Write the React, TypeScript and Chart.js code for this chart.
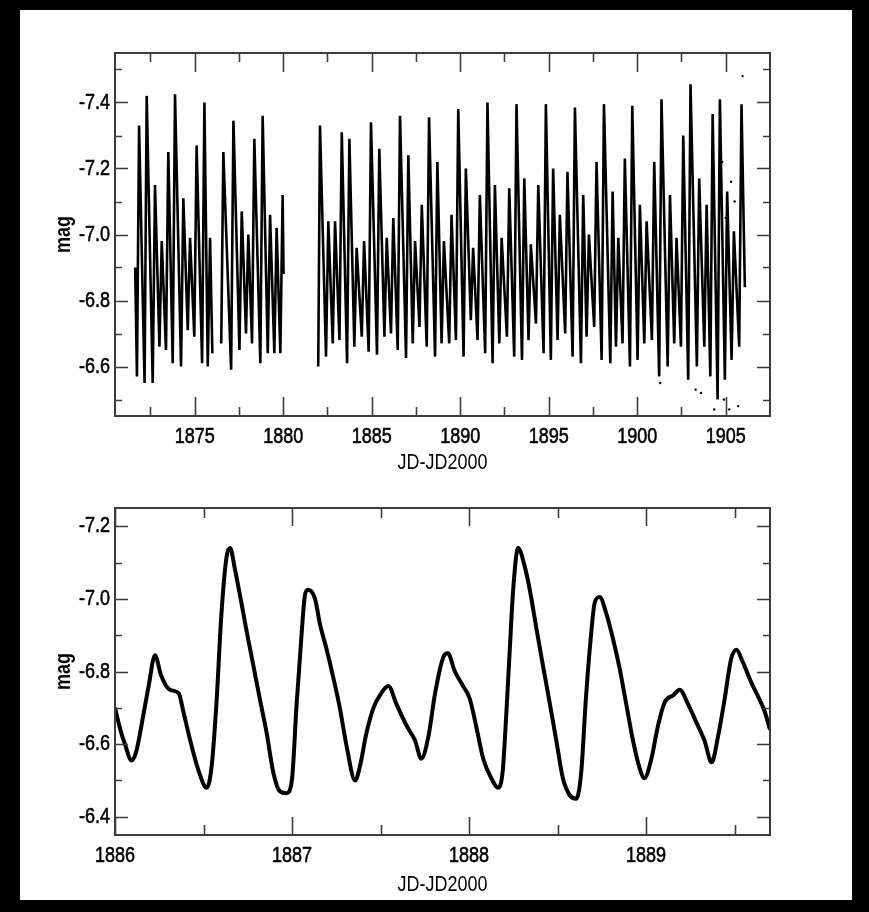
import { useEffect, useRef } from "react";
import { Chart, registerables } from "chart.js";

Chart.register(...registerables);

// ---------- Top panel: full light curve (cycle maxima / minima) ----------
const segADays = [1871.64, 1871.74, 1871.86, 1872.17, 1872.29, 1872.63, 1872.76, 1873.01, 1873.14, 1873.38, 1873.51, 1873.76, 1873.89, 1874.23, 1874.36, 1874.61, 1874.74, 1874.98, 1875.11, 1875.42, 1875.55, 1875.74, 1875.87, 1876.0];
const segAMags = [-6.90, -6.57, -7.33, -6.55, -7.42, -6.55, -7.15, -6.66, -6.98, -6.65, -7.25, -6.61, -7.425, -6.60, -7.11, -6.71, -6.99, -6.69, -7.27, -6.61, -7.40, -6.60, -6.99, -6.64];

const segBDays = [1876.50, 1876.62, 1877.06, 1877.19, 1877.53, 1877.66, 1877.90, 1878.03, 1878.24, 1878.37, 1878.71, 1878.84, 1879.13, 1879.26, 1879.50, 1879.63, 1879.84, 1879.97, 1880.02];
const segBMags = [-6.67, -7.25, -6.59, -7.345, -6.65, -7.07, -6.70, -7.00, -6.67, -7.29, -6.61, -7.36, -6.64, -7.06, -6.64, -7.02, -6.64, -7.12, -6.88];

const segCDays = [
  1881.98, 1882.08, 1882.42, 1882.55, 1882.80, 1882.93, 1883.18, 1883.31, 1883.61, 1883.74,
  1884.02, 1884.15, 1884.44, 1884.57, 1884.83, 1884.96, 1885.30, 1885.43, 1885.72, 1885.85,
  1886.09, 1886.22, 1886.47, 1886.60, 1886.94, 1887.07, 1887.32, 1887.45, 1887.70, 1887.83,
  1888.11, 1888.24, 1888.58, 1888.71, 1888.95, 1889.08, 1889.38, 1889.51, 1889.76, 1889.89,
  1890.19, 1890.32, 1890.60, 1890.73, 1890.98, 1891.11, 1891.41, 1891.54, 1891.83, 1891.96,
  1892.21, 1892.34, 1892.64, 1892.77, 1893.05, 1893.18, 1893.49, 1893.62, 1893.86, 1893.99,
  1894.28, 1894.41, 1894.71, 1894.84, 1895.12, 1895.25, 1895.50, 1895.63, 1895.93, 1896.06,
  1896.35, 1896.48, 1896.82, 1896.95, 1897.14, 1897.27, 1897.57, 1897.70, 1897.99, 1898.12,
  1898.48, 1898.61, 1898.80, 1898.93, 1899.17, 1899.30, 1899.59, 1899.72, 1900.02, 1900.15,
  1900.40, 1900.53, 1900.83, 1900.96, 1901.24, 1901.37, 1901.72, 1901.85, 1902.09, 1902.22,
  1902.47, 1902.60, 1902.88, 1903.01, 1903.37, 1903.50, 1903.79, 1903.92, 1904.13, 1904.26,
  1904.54, 1904.67, 1904.95, 1905.08, 1905.33, 1905.46, 1905.76, 1905.89, 1906.08,
];
const segCMags = [
  -6.60, -7.33, -6.63, -7.04, -6.67, -7.04, -6.68, -7.31, -6.61, -7.29,
  -6.66, -6.96, -6.69, -6.98, -6.645, -7.34, -6.636, -7.26, -6.69, -6.99,
  -6.70, -7.05, -6.65, -7.36, -6.626, -7.24, -6.67, -6.98, -6.72, -7.09,
  -6.66, -7.355, -6.63, -7.22, -6.67, -6.98, -6.67, -7.06, -6.68, -7.38,
  -6.63, -7.20, -6.74, -6.96, -6.68, -7.12, -6.64, -7.40, -6.61, -7.15,
  -6.67, -6.99, -6.69, -7.14, -6.63, -7.395, -6.62, -7.17, -6.68, -6.97,
  -6.73, -7.15, -6.64, -7.395, -6.62, -7.20, -6.68, -7.06, -6.70, -7.19,
  -6.63, -7.385, -6.61, -7.12, -6.69, -7.00, -6.72, -7.22, -6.62, -7.395,
  -6.61, -7.13, -6.66, -6.99, -6.67, -7.23, -6.60, -7.39, -6.62, -7.09,
  -6.67, -7.04, -6.68, -7.22, -6.57, -7.41, -6.60, -7.12, -6.67, -6.99,
  -6.66, -7.30, -6.56, -7.455, -6.60, -7.17, -6.66, -7.09, -6.57, -7.365,
  -6.50, -7.41, -6.56, -7.13, -6.62, -7.01, -6.66, -7.395, -6.84,
];

const strayDays = [1905.95, 1904.35, 1905.2, 1905.7, 1904.9, 1903.3, 1901.3, 1905.3, 1904.8, 1905.5, 1903.6, 1905.0];
const strayMags = [-7.48, -6.47, -6.47, -6.48, -6.50, -6.53, -6.55, -7.16, -7.22, -7.10, -6.52, -7.05];

// ---------- Bottom panel: zoom 1886 - 1889.7 ----------
const zoomDays = [
  1886.00, 1886.03, 1886.056, 1886.094, 1886.12, 1886.16, 1886.19, 1886.226, 1886.26, 1886.31,
  1886.36, 1886.386, 1886.42, 1886.47, 1886.518, 1886.546, 1886.574, 1886.60, 1886.63, 1886.65,
  1886.678, 1886.706, 1886.744, 1886.78, 1886.82, 1886.857, 1886.895, 1886.932, 1886.97, 1887.00,
  1887.026, 1887.055, 1887.073, 1887.09, 1887.13, 1887.158, 1887.196, 1887.23, 1887.27, 1887.31,
  1887.356, 1887.384, 1887.42, 1887.46, 1887.497, 1887.544, 1887.59, 1887.648, 1887.695, 1887.73,
  1887.77, 1887.808, 1887.855, 1887.88, 1887.92, 1887.966, 1888.004, 1888.04, 1888.08, 1888.126,
  1888.164, 1888.19, 1888.21, 1888.23, 1888.25, 1888.277, 1888.314, 1888.343, 1888.38, 1888.418,
  1888.455, 1888.493, 1888.53, 1888.568, 1888.606, 1888.634, 1888.66, 1888.69, 1888.71, 1888.738,
  1888.775, 1888.813, 1888.85, 1888.888, 1888.926, 1888.963, 1888.99, 1889.03, 1889.067, 1889.105,
  1889.152, 1889.19, 1889.237, 1889.284, 1889.33, 1889.37, 1889.406, 1889.444, 1889.48, 1889.51,
  1889.547, 1889.594, 1889.63, 1889.67, 1889.70,
];
const zoomMags = [
  -6.70, -6.64, -6.60, -6.555, -6.58, -6.68, -6.76, -6.845, -6.79, -6.75,
  -6.74, -6.69, -6.62, -6.53, -6.48, -6.54, -6.72, -6.95, -7.115, -7.14,
  -7.08, -7.01, -6.91, -6.82, -6.72, -6.63, -6.52, -6.47, -6.465, -6.505,
  -6.71, -6.91, -7.01, -7.025, -7.00, -6.93, -6.86, -6.79, -6.70, -6.59,
  -6.50, -6.54, -6.63, -6.70, -6.735, -6.76, -6.71, -6.65, -6.61, -6.56,
  -6.62, -6.74, -6.84, -6.85, -6.80, -6.76, -6.725, -6.65, -6.56, -6.506,
  -6.48, -6.525, -6.68, -6.86, -7.03, -7.14, -7.09, -7.025, -6.92, -6.815,
  -6.715, -6.61, -6.506, -6.46, -6.45, -6.525, -6.725, -6.906, -6.99, -7.005,
  -6.96, -6.89, -6.81, -6.71, -6.61, -6.535, -6.506, -6.56, -6.65, -6.715,
  -6.734, -6.75, -6.71, -6.66, -6.61, -6.55, -6.62, -6.725, -6.834, -6.86,
  -6.825, -6.77, -6.734, -6.69, -6.64,
];

// ---------- Axis ticks ----------
const topXTicks = [1875, 1880, 1885, 1890, 1895, 1900, 1905];
const topXMinor = [1872.5, 1877.5, 1882.5, 1887.5, 1892.5, 1897.5, 1902.5];
const topYTicks = [-7.4, -7.2, -7.0, -6.8, -6.6];
const topYMinor = [-7.5, -7.3, -7.1, -6.9, -6.7, -6.5];

const botXTicks = [1886, 1887, 1888, 1889];
const botXMinor = [1886.5, 1887.5, 1888.5, 1889.5];
const botYTicks = [-7.2, -7.0, -6.8, -6.6, -6.4];
const botYMinor = [-7.1, -6.9, -6.7, -6.5];

const FONT = '"Liberation Sans", Arial, sans-serif';
const FONT_SIZE = 22.5;
const TEXT_SQUEEZE = 0.8;

const pts = (xs: number[], ys: number[]) => xs.map((x, i) => ({ x, y: ys[i] }));

// Condensed lettering: Chart.js still draws every label; we only narrow the glyphs.
const narrowTextPlugin = {
  id: "narrowText",
  beforeDraw(chart: any) {
    const ctx = chart.ctx as any;
    if (ctx.__origFillText) return;
    const origFill = ctx.fillText;
    const origStroke = ctx.strokeText;
    ctx.__origFillText = origFill;
    ctx.__origStrokeText = origStroke;
    ctx.fillText = function (text: string, x: number, y: number) {
      this.save();
      this.translate(x, y);
      this.scale(TEXT_SQUEEZE, 1);
      origFill.call(this, text, 0, 0);
      this.restore();
    };
    ctx.strokeText = function (text: string, x: number, y: number) {
      this.save();
      this.translate(x, y);
      this.scale(TEXT_SQUEEZE, 1);
      origStroke.call(this, text, 0, 0);
      this.restore();
    };
  },
  afterDraw(chart: any) {
    const ctx = chart.ctx as any;
    if (ctx.__origFillText) {
      ctx.fillText = ctx.__origFillText;
      ctx.strokeText = ctx.__origStrokeText;
      delete ctx.__origFillText;
      delete ctx.__origStrokeText;
    }
  },
};

const framePlugin = {
  id: "frame",
  afterDraw(chart: any, _args: any, opts: any) {
    const { ctx, chartArea, scales } = chart;
    const { left, right, top, bottom } = chartArea;
    const xs = scales.x;
    const ys = scales.y;
    ctx.save();
    ctx.strokeStyle = "#3c3c3c";
    ctx.lineWidth = 2;
    ctx.strokeRect(left, top, right - left, bottom - top);
    ctx.beginPath();
    const xTick = (v: number, len: number) => {
      const p = Math.round(xs.getPixelForValue(v)) + 0.5;
      ctx.moveTo(p, bottom);
      ctx.lineTo(p, bottom - len);
      ctx.moveTo(p, top);
      ctx.lineTo(p, top + len);
    };
    const yTick = (v: number, len: number) => {
      const p = Math.round(ys.getPixelForValue(v)) + 0.5;
      ctx.moveTo(left, p);
      ctx.lineTo(left + len, p);
      ctx.moveTo(right, p);
      ctx.lineTo(right - len, p);
    };
    opts.xMajor.forEach((v: number) => xTick(v, opts.xMajorLen));
    opts.xMinor.forEach((v: number) => xTick(v, opts.xMinorLen));
    opts.yMajor.forEach((v: number) => yTick(v, opts.yMajorLen));
    opts.yMinor.forEach((v: number) => yTick(v, opts.yMinorLen));
    ctx.lineWidth = 1.6;
    ctx.stroke();
    ctx.restore();
  },
};

function makeConfig(p: any): any {
  const font = { family: FONT, size: FONT_SIZE };
  return {
    type: "line",
    data: { datasets: p.datasets },
    options: {
      animation: false,
      responsive: false,
      events: [],
      layout: { padding: { left: 0, right: 99, top: p.padTop, bottom: 0 } },
      plugins: {
        legend: { display: false },
        tooltip: { enabled: false },
        frame: p.frame,
      },
      scales: {
        x: {
          type: "linear",
          min: p.xMin,
          max: p.xMax,
          grid: { display: false, drawTicks: false },
          border: { display: false },
          afterBuildTicks: (s: any) => {
            s.ticks = p.xTicks.map((v: number) => ({ value: v }));
          },
          afterFit: (s: any) => {
            s.height = p.xHeight;
          },
          ticks: {
            autoSkip: false,
            maxRotation: 0,
            padding: 7,
            color: "#000",
            textStrokeColor: "#000",
            textStrokeWidth: 0.6,
            font,
            callback: (v: any) => String(v),
          },
          title: {
            display: true,
            text: "JD-JD2000",
            color: "#000",
            font,
            padding: { top: 0, bottom: p.titleBottom },
          },
        },
        y: {
          type: "linear",
          reverse: true,
          min: p.yMin,
          max: p.yMax,
          grid: { display: false, drawTicks: false },
          border: { display: false },
          afterBuildTicks: (s: any) => {
            s.ticks = p.yTicks.map((v: number) => ({ value: v }));
          },
          afterFit: (s: any) => {
            s.width = 115;
          },
          ticks: {
            autoSkip: false,
            padding: 5,
            color: "#000",
            textStrokeColor: "#000",
            textStrokeWidth: 0.6,
            font,
            callback: (v: any) => Number(v).toFixed(1),
          },
          title: {
            display: true,
            text: "mag",
            color: "#000",
            font: { family: FONT, size: FONT_SIZE, weight: "bold" },
            padding: { top: 50, bottom: 0 },
          },
        },
      },
    },
    plugins: [narrowTextPlugin, framePlugin],
  };
}

const lineSet = (xs: number[], ys: number[], w: number, smooth: boolean) => ({
  data: pts(xs, ys),
  borderColor: "#000",
  borderWidth: w,
  pointRadius: 0,
  tension: 0,
  cubicInterpolationMode: smooth ? "monotone" : "default",
  fill: false,
});

export default function App() {
  const topRef = useRef<HTMLCanvasElement>(null);
  const botRef = useRef<HTMLCanvasElement>(null);

  useEffect(() => {
    const top = new Chart(
      topRef.current as HTMLCanvasElement,
      makeConfig({
        datasets: [
          lineSet(segADays, segAMags, 2.6, false),
          lineSet(segBDays, segBMags, 2.6, false),
          lineSet(segCDays, segCMags, 2.6, false),
          {
            data: pts(strayDays, strayMags),
            showLine: false,
            pointRadius: 1.2,
            pointBackgroundColor: "#000",
            pointBorderWidth: 0,
          },
        ],
        xMin: 1870.5,
        xMax: 1907.5,
        yMin: -7.55,
        yMax: -6.45,
        xTicks: topXTicks,
        yTicks: topYTicks,
        padTop: 53,
        xHeight: 64,
        titleBottom: 4,
        frame: {
          xMajor: topXTicks,
          xMinor: topXMinor,
          yMajor: topYTicks,
          yMinor: topYMinor,
          xMajorLen: 19,
          xMinorLen: 9,
          yMajorLen: 13,
          yMinorLen: 7,
        },
      })
    );
    const bot = new Chart(
      botRef.current as HTMLCanvasElement,
      makeConfig({
        datasets: [lineSet(zoomDays, zoomMags, 4, true)],
        xMin: 1886,
        xMax: 1889.7,
        yMin: -7.25,
        yMax: -6.35,
        xTicks: botXTicks,
        yTicks: botYTicks,
        padTop: 28,
        xHeight: 77,
        titleBottom: 14,
        frame: {
          xMajor: botXTicks,
          xMinor: botXMinor,
          yMajor: botYTicks,
          yMinor: botYMinor,
          xMajorLen: 18,
          xMinorLen: 10,
          yMajorLen: 13,
          yMinorLen: 7,
        },
      })
    );
    return () => {
      top.destroy();
      bot.destroy();
    };
  }, []);

  return (
    <div style={{ position: "absolute", left: 0, top: 0, width: 869, height: 912, background: "#000", overflow: "hidden" }}>
      <div style={{ position: "absolute", left: 20, top: 10, width: 832, height: 890, background: "#fff" }} />
      <canvas ref={topRef} width={869} height={480} style={{ position: "absolute", left: 0, top: 0 }} />
      <canvas ref={botRef} width={869} height={432} style={{ position: "absolute", left: 0, top: 480 }} />
    </div>
  );
}
